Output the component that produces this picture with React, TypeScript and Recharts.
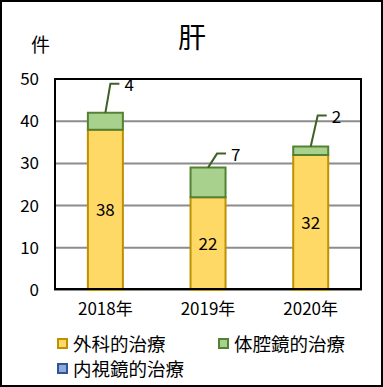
import React from 'react';
import { BarChart, Bar, XAxis, YAxis, CartesianGrid, LabelList } from 'recharts';

const years = ['2018年', '2019年', '2020年'];
const surgical = [38, 22, 32];
const laparoscopic = [4, 7, 2];
const endoscopic = [0, 0, 0];
const yTicks = [0, 10, 20, 30, 40, 50];

const seriesNames = ['外科的治療', '体腔鏡的治療', '内視鏡的治療'];

// hand-placed leader lines for the green labels: [dx, dy, horizontal]
const leaders = [
  [5, -29, 9],
  [9, -14, 9],
  [7, -31, 9],
];

const data = years.map((y, i) => ({
  year: y,
  surgical: surgical[i],
  laparoscopic: laparoscopic[i],
  endoscopic: endoscopic[i],
}));

const FONT = '"Noto Sans CJK JP", "Noto Sans", sans-serif';

const LeaderLabel = (props: any) => {
  const { x, y, width, value, index } = props;
  const [dx, dy, h] = leaders[index] ?? [6, -20, 9];
  const sx = x + width / 2;
  const ex = sx + dx;
  const ey = y + dy;
  return (
    <g>
      <path d={`M${sx},${y} L${ex},${ey} L${ex + h},${ey}`} stroke="#3f6128" strokeWidth={2} fill="none" />
      <text x={ex + h + 5} y={ey} dominantBaseline="central" fontSize={17} fill="#000" fontFamily={FONT}>
        {value}
      </text>
    </g>
  );
};

const legendItems = [
  { name: seriesNames[0], fill: '#FFD966', stroke: '#BF9000', left: 57, top: 333 },
  { name: seriesNames[1], fill: '#A9D18E', stroke: '#548235', left: 218, top: 333 },
  { name: seriesNames[2], fill: '#8FAADC', stroke: '#2F5597', left: 57, top: 358 },
];

export default function App() {
  return (
    <div style={{ position: 'relative', width: 383, height: 387, background: '#fff', fontFamily: FONT }}>
      <style>{'body{margin:0}'}</style>
      <BarChart
        width={383}
        height={387}
        data={data}
        margin={{ top: 79, right: 21, bottom: 67, left: 0 }}
        barCategoryGap="33%"
      >
        <CartesianGrid vertical={false} stroke="#8c8c8c" strokeWidth={2} />
        <XAxis
          dataKey="year"
          tickLine={false}
          axisLine={false}
          tickSize={0}
          tickMargin={13}
          height={30}
          tick={{ fontSize: 17, fill: '#000', fontFamily: FONT }}
        />
        <YAxis
          domain={[0, 50]}
          ticks={yTicks}
          width={54}
          tickLine={false}
          axisLine={false}
          tickSize={0}
          tickMargin={15}
          tick={{ fontSize: 17, fill: '#000', fontFamily: FONT }}
        />
        <Bar dataKey="surgical" stackId="a" fill="#FFD966" stroke="#BF9000" strokeWidth={2} isAnimationActive={false}>
          <LabelList dataKey="surgical" position="center" fontSize={17} fill="#000" fontFamily={FONT} />
        </Bar>
        <Bar dataKey="laparoscopic" stackId="a" fill="#A9D18E" stroke="#548235" strokeWidth={2} isAnimationActive={false}>
          <LabelList dataKey="laparoscopic" content={<LeaderLabel />} />
        </Bar>
        <Bar dataKey="endoscopic" stackId="a" fill="#8FAADC" stroke="#2F5597" strokeWidth={2} isAnimationActive={false} />
      </BarChart>

      {/* plot frame */}
      <div style={{ position: 'absolute', left: 54, top: 78, width: 308, height: 212, border: '2px solid #000', boxSizing: 'border-box', pointerEvents: 'none' }} />

      <div style={{ position: 'absolute', left: 172, width: 40, top: 17, textAlign: 'center', fontSize: 28, lineHeight: '38px' }}>肝</div>
      <div style={{ position: 'absolute', left: 31, top: 31, fontSize: 19, lineHeight: '26px' }}>件</div>

      {legendItems.map((it) => (
        <div key={it.name} style={{ position: 'absolute', left: it.left, top: it.top, display: 'flex', alignItems: 'center', fontSize: 18.5, lineHeight: '20px' }}>
          <span style={{ display: 'inline-block', width: 7, height: 7, background: it.fill, border: `2px solid ${it.stroke}`, marginRight: 5 }} />
          <span>{it.name}</span>
        </div>
      ))}

      <div style={{ position: 'absolute', inset: 0, border: '2px solid #000', pointerEvents: 'none' }} />
    </div>
  );
}
